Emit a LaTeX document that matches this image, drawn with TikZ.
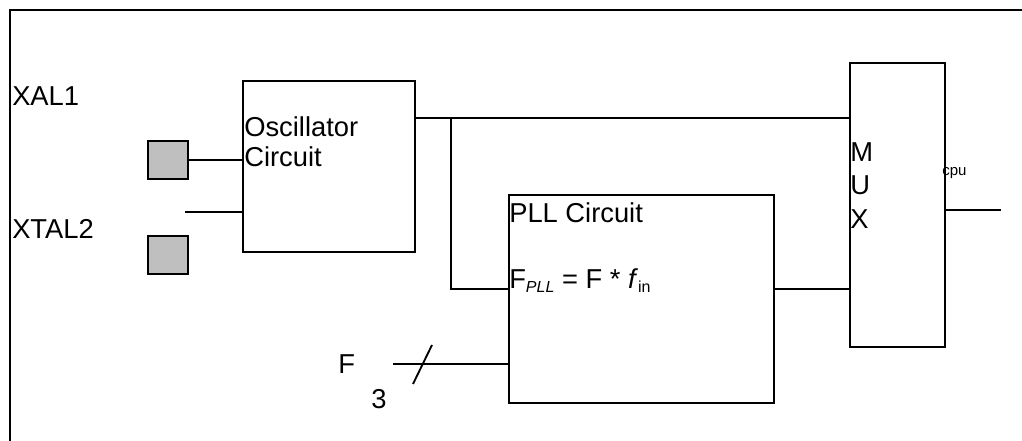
\documentclass[tikz,border=0pt]{standalone}
\usepackage{fontspec}
\setmainfont{Liberation Sans}
\begin{document}
\begin{tikzpicture}[x=0.75pt,y=-0.75pt,
  wire/.style={line width=1.4pt, black},
  blk/.style={draw, line width=1.4pt, anchor=north west, inner sep=0pt, fill=white},
  pad/.style={draw, line width=1.4pt, anchor=north west, inner sep=0pt, fill=gray!50!white,
    minimum width=30pt, minimum height=28.5pt},
  lbl/.style={anchor=base west, inner sep=0pt, font=\fontsize{20.5}{24}\selectfont},
  small/.style={anchor=base west, inner sep=0pt, font=\fontsize{11.25}{13}\selectfont}]
\useasboundingbox (0,0) rectangle (1022,441);
% frame
\coordinate (fbl) at (10,441);
\coordinate (ftl) at (10,10);
\coordinate (ftr) at (1022,10);
\draw[line width=1.7pt] (fbl) -- (ftl) -- (ftr);
% labels
\node[lbl] (xal1) at (12,106) {XAL1};
\node[lbl] (xtal2) at (12,239) {XTAL2};
% pads
\node[pad] (sq1) at (147,140) {};
\node[pad] (sq2) at (147,235) {};
% blocks
\node[small] (cpu) at (942,176) {cpu};
\node[blk, minimum width=129pt, minimum height=128.25pt] (osc) at (242,80) {};
\node[blk, minimum width=198.75pt, minimum height=156pt] (pll) at (508,194) {};
\node[blk, minimum width=71.25pt, minimum height=213pt, fill=none] (mux) at (849,62) {};
% block texts
\node[lbl] (osct1) at (244,137) {Oscillator};
\node[lbl] (osct2) at (244,167) {Circuit};
\node[lbl] (pllt1) at (509,223) {PLL Circuit};
\node[lbl] (pllt2) at (509,289) {F\raisebox{-3pt}{\fontsize{12}{12}\selectfont\itshape PLL} = F * \textit{f}\raisebox{-3pt}{\fontsize{12}{12}\selectfont in}};
\node[lbl] (muxm) at (850,162) {M};
\node[lbl] (muxu) at (850,195) {U};
\node[lbl] (muxx) at (850,229) {X};
\node[lbl] (flbl) at (338,374) {F};
\node[lbl] (three) at (371,409) {3};
% connectors
\coordinate (x2end) at (185,212);
\coordinate (j) at (451,118);
\coordinate (pin) at (451,289);
\coordinate (mout) at (1001,210);
\coordinate (bus) at (393,364);
\coordinate (sl1) at (413,384);
\coordinate (sl2) at (432,345);
\draw[wire] (sq1.east) -- (sq1.east -| osc.west);
\draw[wire] (x2end) -- (x2end -| osc.west);
\draw[wire] (j -| osc.east) -- (j -| mux.west);
\draw[wire] (j) -- (pin) -- (pin -| pll.west);
\draw[wire] (pin -| pll.east) -- (pin -| mux.west);
\draw[wire] (mout -| mux.east) -- (mout);
\draw[wire] (bus) -- (bus -| pll.west);
\draw[wire] (sl1) -- (sl2);
\end{tikzpicture}
\end{document}
